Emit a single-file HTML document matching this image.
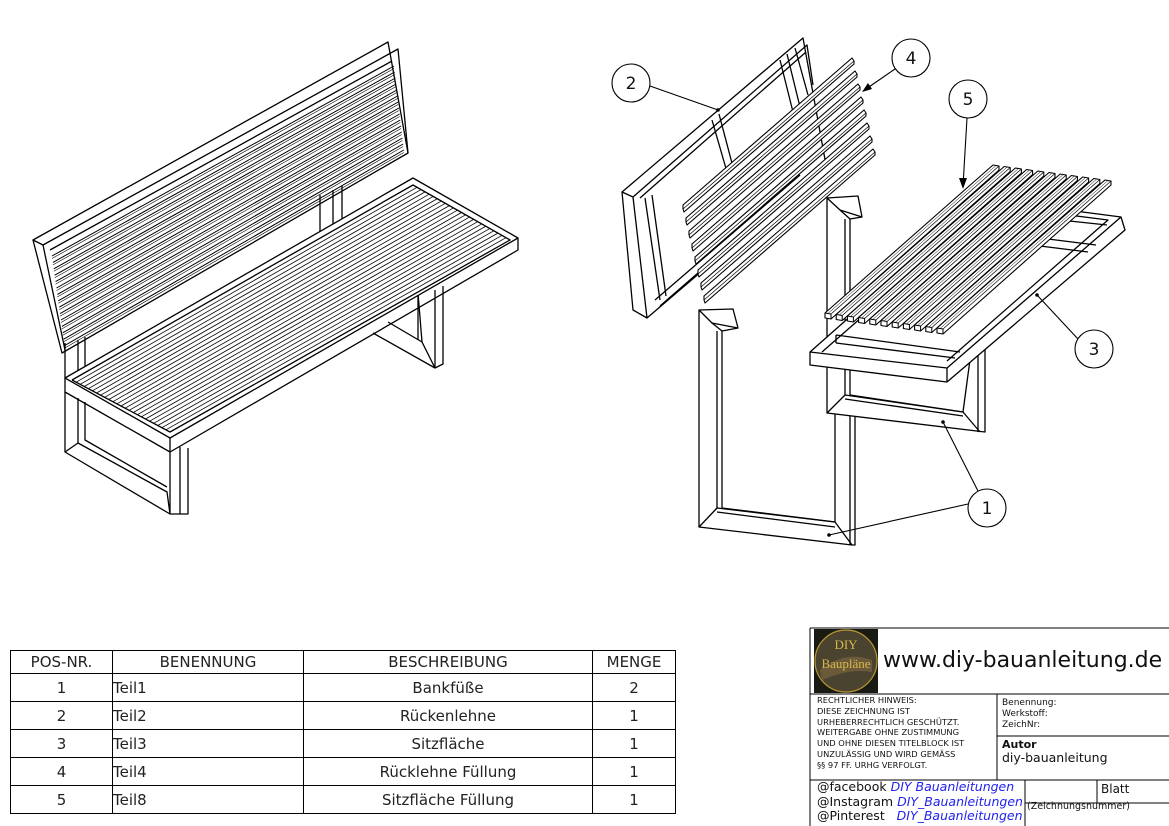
<!DOCTYPE html>
<html><head><meta charset="utf-8">
<style>
html,body{margin:0;padding:0;background:#fff;}
body{width:1169px;height:826px;position:relative;overflow:hidden;font-family:"Liberation Sans",sans-serif;}
svg{position:absolute;left:0;top:0;}
.t{position:absolute;font-family:"DejaVu Sans","Liberation Sans",sans-serif;color:#111;white-space:nowrap;}
table.b{position:absolute;left:10px;top:650px;border-collapse:collapse;font-family:"DejaVu Sans","Liberation Sans",sans-serif;font-size:15px;color:#222;}
table.b td{border:1px solid #000;height:27px;padding:0;text-align:center;}
table.b tr:first-child td{height:22px;font-size:15px;}
table.b td.l{text-align:left;}
</style></head><body>
<svg id="s" width="1169" height="826" viewBox="0 0 1169 826" fill="none" stroke="#000" stroke-width="1.3" stroke-linejoin="round">
<polygon points="33,240 388,42 408,153 62,353" fill="#fff"/>
<polyline points="33,240 43,245 65,350"/>
<polyline points="43,245 398,49 408,153"/>
<polyline points="50,250 392,61"/>
<g id="bslats"></g>
<polyline points="320,195 320,232"/><polyline points="333,190 333,228"/><polyline points="342,186 342,225"/>
<polyline points="65,343 65,378"/><polyline points="78,340 78,375"/><polyline points="85,337 85,372"/>
<polyline points="418,293 418,340"/><polyline points="435,290 435,368 443,364 443,286"/>
<polyline points="373,333 435,368"/><polyline points="388,322 422,342 418,293"/><polyline points="422,342 435,368"/>
<polygon points="65,378 413,178 518,238 170,438" fill="#fff"/>
<polyline points="65,378 65,392 170,452 518,250 518,238"/>
<polyline points="170,438 170,452"/>
<polyline points="72,380 413,185 510,240 170,432 72,380"/>
<g id="sslats"></g>
<polyline points="65,392 65,452 170,514 188,514 188,448"/>
<polyline points="170,452 170,514"/><polyline points="180,447 180,514"/>
<polyline points="78,398 78,443 167,492 170,514"/><polyline points="78,443 65,452"/>
<polyline points="85,402 85,440 167,487"/>

<polygon points="622,192 803,38 826,165 647,318 633,310" fill="#fff"/>
<polyline points="622,192 633,197 647,318"/>
<polyline points="633,197 807,45 813,85"/>
<polyline points="640,198 806,52"/>
<polyline points="655,300 800,175"/><polyline points="660,306 805,180"/>
<polyline points="645,198 660,300"/><polyline points="652,195 666,296"/>
<polyline points="712,120 727,172"/><polyline points="719,114 733,167"/>
<polyline points="780,60 793,112"/><polyline points="787,54 800,107"/>
<polyline points="795,48 808,95"/>
<g id="bk2"></g>
<polygon points="699,310 733,309 738,328 722,331 722,508 835,522 835,410 855,410 855,545 852,545 699,527" fill="#fff"/>
<polyline points="699,310 712,323 738,328"/><polyline points="712,323 722,331"/>
<polyline points="717,331 717,508"/>
<polyline points="699,527 717,508 835,522 852,545"/>
<polyline points="717,512 835,527"/>
<polyline points="850,410 850,545"/>
<polygon points="827,198 858,196 862,217 850,219 850,395 963,412 978,300 985,300 985,432 827,413" fill="#fff"/>
<polyline points="827,198 840,210 862,217"/><polyline points="840,210 850,219"/>
<polyline points="845,219 845,395"/>
<polyline points="827,413 845,395 963,412 980,432"/><polyline points="845,399 963,416"/>
<polyline points="978,300 978,432"/>
<polygon points="810,352 983,199 1121,217 1125,230 947,382 810,365" fill="#fff"/>
<polyline points="810,352 947,368 1121,217"/>
<polyline points="947,368 947,382"/>
<polyline points="822,352 990,205 1108,220 947,361"/>
<polyline points="836,335 960,352"/><polyline points="836,343 955,358"/><polyline points="836,335 836,343"/>
<polyline points="1040,238 1096,245"/><polyline points="1032,245 1088,252"/>
<polyline points="1060,220 1107,225"/>
<g id="sl5"></g>
<g stroke-width="1.1">
<circle cx="631" cy="83" r="19" fill="#fff"/><circle cx="911" cy="58" r="19" fill="#fff"/>
<circle cx="968" cy="99" r="19" fill="#fff"/><circle cx="1094" cy="349" r="19" fill="#fff"/>
<circle cx="987" cy="508" r="19" fill="#fff"/>
<line x1="650" y1="86" x2="718" y2="110"/>
<line x1="895" y1="69" x2="866" y2="89"/>
<line x1="967" y1="118" x2="963" y2="186"/>
<line x1="1078" y1="339" x2="1037" y2="295"/>
<line x1="978" y1="491" x2="943" y2="422"/>
<line x1="968" y1="504" x2="829" y2="535"/>
</g>
<g fill="#000" stroke="none">
<polygon points="862,92 868,83 872,89"/><polygon points="963,189 959,178 967,178"/>
<circle cx="718" cy="110" r="1.8"/><circle cx="1037" cy="295" r="1.8"/><circle cx="943" cy="422" r="1.8"/><circle cx="829" cy="535" r="1.8"/>
</g>
<g font-family="DejaVu Sans, Liberation Sans, sans-serif" font-size="17" fill="#111" stroke="none" text-anchor="middle">
<text x="631" y="89">2</text><text x="911" y="64">4</text><text x="968" y="105">5</text><text x="1094" y="355">3</text><text x="987" y="514">1</text>
</g>
<g stroke-width="1">
<line x1="810" y1="628" x2="1169" y2="628"/>
<line x1="810" y1="628" x2="810" y2="826"/>
<line x1="810" y1="694" x2="1169" y2="694"/>
<line x1="997" y1="694" x2="997" y2="780"/>
<line x1="997" y1="736" x2="1169" y2="736"/>
<line x1="810" y1="780" x2="1169" y2="780"/>
<line x1="1025" y1="780" x2="1025" y2="826"/>
<line x1="1097" y1="780" x2="1097" y2="803"/>
<line x1="1025" y1="803" x2="1169" y2="803"/>
</g>
<rect x="814" y="629" width="64" height="64" fill="#1a1a14" stroke="none"/>
<circle cx="846" cy="661" r="31" fill="#4a4330" stroke="#b8962e" stroke-width="1.2"/>
<path d="M820 670 Q845 650 872 660 L872 672 Q850 668 822 680Z" fill="#6b5a3a" stroke="none"/>
<text x="846" y="649" font-size="13" fill="#d8b84a" stroke="none" text-anchor="middle" font-family="Liberation Serif,serif">DIY</text>
<text x="846" y="668" font-size="13" fill="#d8b84a" stroke="none" text-anchor="middle" font-family="Liberation Serif,serif">Baupläne</text>
</svg>

<div class="t" style="left:883px;top:648px;font-size:22px;">www.diy-bauanleitung.de</div>
<div class="t" style="left:817px;top:695px;font-size:8.3px;line-height:10.8px;">RECHTLICHER HINWEIS:<br>DIESE ZEICHNUNG IST<br>URHEBERRECHTLICH GESCHÜTZT.<br>WEITERGABE OHNE ZUSTIMMUNG<br>UND OHNE DIESEN TITELBLOCK IST<br>UNZULÄSSIG UND WIRD GEMÄSS<br>§§ 97 FF. URHG VERFOLGT.</div>
<div class="t" style="left:1002px;top:698px;font-size:9px;line-height:11px;">Benennung:<br>Werkstoff:<br>ZeichNr:</div>
<div class="t" style="left:1002px;top:738px;font-size:11px;font-weight:bold;">Autor</div>
<div class="t" style="left:1002px;top:750px;font-size:12.5px;">diy-bauanleitung</div>
<div class="t" style="left:817px;top:780px;font-size:12.5px;line-height:14.5px;">@facebook <i style="color:#2222ee">DIY Bauanleitungen</i><br>@Instagram <i style="color:#2222ee">DIY_Bauanleitungen</i><br>@Pinterest &nbsp;&nbsp;<i style="color:#2222ee">DIY_Bauanleitungen</i></div>
<div class="t" style="left:1101px;top:782px;font-size:12px;">Blatt</div>
<div class="t" style="left:1027px;top:801px;font-size:9.5px;">(Zeichnungsnummer)</div>

<table class="b">
<tr><td style="width:101px">POS-NR.</td><td style="width:190px">BENENNUNG</td><td style="width:288px">BESCHREIBUNG</td><td style="width:82px">MENGE</td></tr>
<tr><td>1</td><td class="l">Teil1</td><td>Bankfüße</td><td>2</td></tr>
<tr><td>2</td><td class="l">Teil2</td><td>Rückenlehne</td><td>1</td></tr>
<tr><td>3</td><td class="l">Teil3</td><td>Sitzfläche</td><td>1</td></tr>
<tr><td>4</td><td class="l">Teil4</td><td>Rücklehne Füllung</td><td>1</td></tr>
<tr><td>5</td><td class="l">Teil8</td><td>Sitzfläche Füllung</td><td>1</td></tr>
</table>

<script>
var NS="http://www.w3.org/2000/svg";
function L(g,x1,y1,x2,y2,w){var l=document.createElementNS(NS,"line");l.setAttribute("x1",x1);l.setAttribute("y1",y1);l.setAttribute("x2",x2);l.setAttribute("y2",y2);if(w)l.setAttribute("stroke-width",w);document.getElementById(g).appendChild(l);}
function P(g,pts,w){var p=document.createElementNS(NS,"polygon");p.setAttribute("points",pts.join(" "));p.setAttribute("fill","#fff");if(w)p.setAttribute("stroke-width",w);document.getElementById(g).appendChild(p);}
for(var i=0;i<15;i++){var a=256+i*6.4,b=66+i*6.0;L("bslats",52+i*0.9,a,394+i*0.7,b,1);L("bslats",52+i*0.9,a+2.5,394+i*0.7,b+2.5,0.6);}
for(var i=1;i<24;i++){var t=i/24;var x1=72+98*t,y1=380+52*t,x2=413+97*t,y2=185+55*t;L("sslats",x1,y1,x2,y2,0.8);}
for(var i=0;i<8;i++){var x1=683+i*3,y1=205+i*13,x2=852+i*3,y2=58+i*13;
 P("bk2",[x1+","+y1,x2+","+y2,(x2+2)+","+(y2+3),(x2+2)+","+(y2+6),(x1+1)+","+(y1+7),x1+","+(y1+4)],1.1);
 L("bk2",x1,y1+4,x2+2,y2+3,0.7);}
for(var i=0;i<11;i++){var x1=825+i*11.2,y1=313+i*1.5,x2=993+i*11.2,y2=165+i*1.5;
 P("sl5",[x1+","+y1,x2+","+y2,(x2+6)+","+(y2+1),(x2+6)+","+(y2+5),(x1+6)+","+(y1+6),x1+","+(y1+5)],1.1);
 L("sl5",x1,y1,x1+6,y1+1,1);L("sl5",x1+6,y1+1,x1+6,y1+6,1);L("sl5",x1+6,y1+1,x2+6,y2+1,0.7);L("sl5",x1+3,y1+0.5,x2+3,y2+0.5,0.5);}
</script>
</body></html>
